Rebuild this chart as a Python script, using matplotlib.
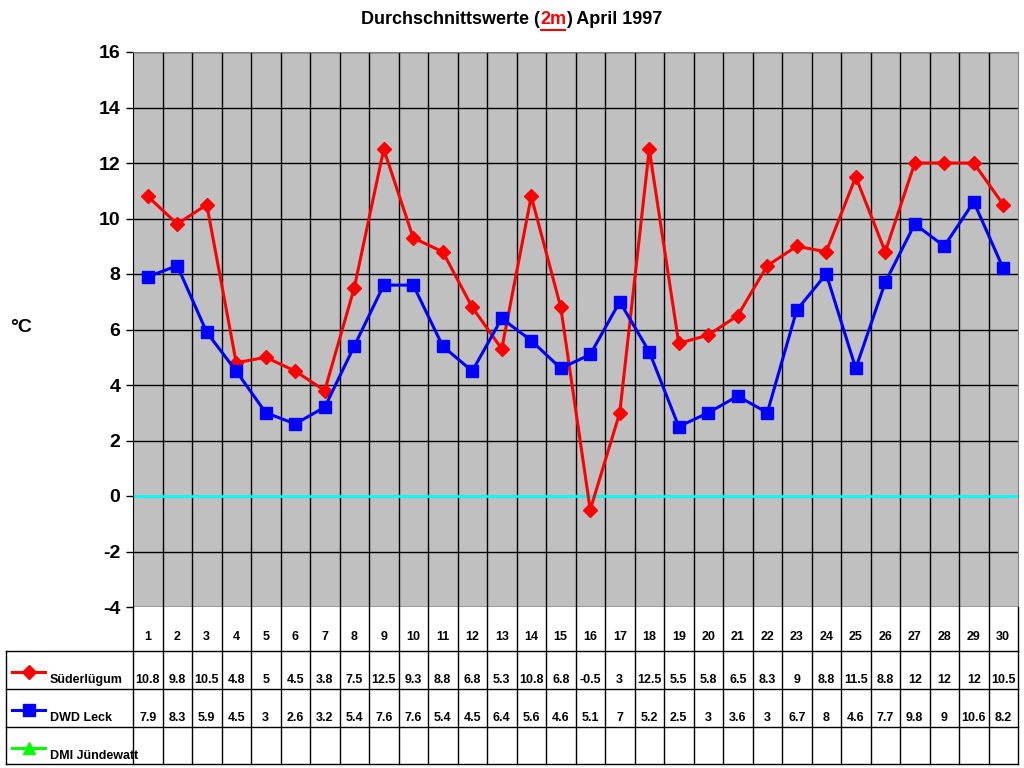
import matplotlib.pyplot as plt
from matplotlib.lines import Line2D

plt.rcParams['font.family'] = ['Liberation Sans', 'DejaVu Sans']
plt.rcParams['font.weight'] = 'bold'

days = list(range(1, 31))
suederluegum = [10.8, 9.8, 10.5, 4.8, 5, 4.5, 3.8, 7.5, 12.5, 9.3, 8.8, 6.8, 5.3, 10.8, 6.8,
                -0.5, 3, 12.5, 5.5, 5.8, 6.5, 8.3, 9, 8.8, 11.5, 8.8, 12, 12, 12, 10.5]
dwd_leck = [7.9, 8.3, 5.9, 4.5, 3, 2.6, 3.2, 5.4, 7.6, 7.6, 5.4, 4.5, 6.4, 5.6, 4.6,
            5.1, 7, 5.2, 2.5, 3, 3.6, 3, 6.7, 8, 4.6, 7.7, 9.8, 9, 10.6, 8.2]
dmi_juendewatt = [None] * 30

series_names = ['Süderlügum', 'DWD Leck', 'DMI Jündewatt']
series_data = [suederluegum, dwd_leck, dmi_juendewatt]
series_colors = ['#FF0000', '#0000FF', '#00FF00']
series_markers = ['D', 's', '^']
yticks = list(range(-4, 17, 2))

W, H = 1024, 768
fig = plt.figure(figsize=(W / 100, H / 100), dpi=100)

# main plot area
x0, x1, y0, y1 = 133, 1018, 52, 607
ax = fig.add_axes([x0 / W, 1 - y1 / H, (x1 - x0) / W, (y1 - y0) / H])
ax.set_facecolor('#C0C0C0')
ax.set_xlim(0.5, 30.5)
ax.set_ylim(-4, 16)
ax.set_yticks(yticks)
ax.set_yticklabels([str(v) for v in yticks], fontsize=14, fontweight='bold')
ax.set_xticks([d + 0.5 for d in days[:-1]])
ax.set_xticklabels([])
ax.tick_params(axis='x', length=0)
ax.tick_params(axis='y', length=5, width=1, direction='out', pad=4)
ax.grid(True, color='black', linewidth=1)
ax.set_axisbelow(True)
for side in ['top', 'right']:
    ax.spines[side].set_color('#808080')
ax.spines['left'].set_color('black')
ax.spines['bottom'].set_visible(False)
ax.axhline(0, color='#00FFFF', linewidth=2, zorder=2)

for vals, c, m in zip(series_data[:2], series_colors, series_markers):
    ax.plot(days, vals, color=c, marker=m, linewidth=2.2,
            markersize=7.5 if m == 'D' else 8.5, zorder=3)

fig.text(10 / W, 1 - 328 / H, '°C', fontsize=14, fontweight='bold', va='center', ha='left')

# data table below
tab_top, tab_bot = 607, 764
row_edges = [0, 44, 82, 120, 157]
tax = fig.add_axes([x0 / W, 1 - tab_bot / H, (x1 - x0) / W, (tab_bot - tab_top) / H])
tax.set_xlim(0.5, 30.5)
tax.set_ylim(157, 0)
tax.axis('off')
px = (x1 - x0) / 30
left_x = 0.5 - (x0 - 6) / px
for d in days:
    tax.plot([d + 0.5, d + 0.5], [0, 157], color='black', linewidth=1, clip_on=False)
    tax.text(d, 30, str(d), ha='center', va='center', fontsize=9, fontweight='bold')
tax.plot([0.5, 0.5], [0, 157], color='black', linewidth=1, clip_on=False)
for r in row_edges[1:]:
    tax.plot([left_x, 30.5], [r, r], color='black', linewidth=1, clip_on=False)
tax.plot([left_x, left_x], [44, 157], color='black', linewidth=1, clip_on=False)

for i, (name, vals, c, m) in enumerate(zip(series_names, series_data, series_colors, series_markers)):
    rtop = row_edges[i + 1]
    ymid = rtop + 26
    for d, v in zip(days, vals):
        if v is not None:
            tax.text(d, ymid + 3, f'{v:g}', ha='center', va='center', fontsize=9, fontweight='bold')
    lx0 = 0.5 + (12 - x0) / px
    lx1 = 0.5 + (45 - x0) / px
    tax.add_line(Line2D([lx0, lx1], [ymid - 5, ymid - 5], color=c, linewidth=2.2,
                        clip_on=False))
    tax.plot([(lx0 + lx1) / 2], [ymid - 5], marker=m, color=c,
             markersize=7.5 if m == 'D' else 8.5, clip_on=False)
    tax.text(0.5 + (50 - x0) / px, ymid + 3, name, ha='left', va='center',
             fontsize=9, fontweight='bold')

# title with red, underlined "2m"
fig.canvas.draw()
r = fig.canvas.get_renderer()
parts = ['Durchschnittswerte (', '2m', ') April 1997']
colors = ['black', 'red', 'black']
objs = [fig.text(0, 1 - 20 / H, p, fontsize=13, fontweight='bold', color=c, va='center')
        for p, c in zip(parts, colors)]
widths = [o.get_window_extent(r).width for o in objs]
x = (W / 2 - sum(widths) / 2)
for o, w in zip(objs, widths):
    o.set_x(x / W)
    if o.get_text() == '2m':
        fig.add_artist(Line2D([(x + 1) / W, (x + w - 1) / W], [1 - 29.5 / H, 1 - 29.5 / H],
                              color='red', linewidth=1.5))
    x += w

fig.savefig('out.png', dpi=100)
